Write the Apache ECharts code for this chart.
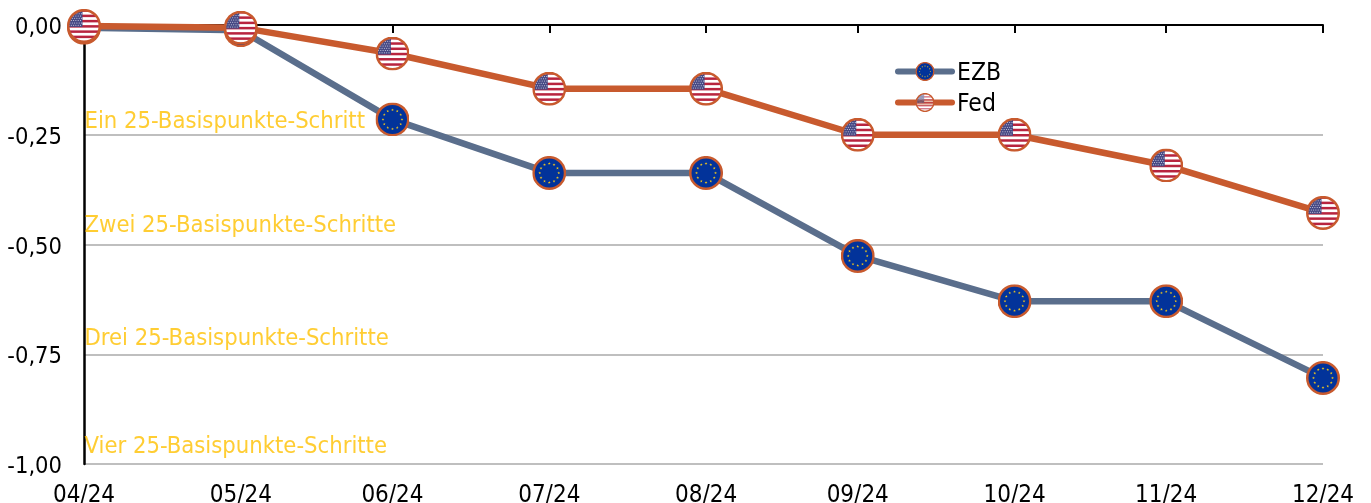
<!DOCTYPE html>
<html>
<head>
<meta charset="utf-8">
<style>
  html, body { margin: 0; padding: 0; background: #fff; }
  #chart { width: 1371px; height: 503px; }
</style>
<script src="https://cdn.jsdelivr.net/npm/echarts@6/dist/echarts.min.js"></script>
</head>
<body>
<div id="chart"></div>
<script>
// Cumulative rate steps since April 2024, in percentage points, at month ends
const monthEnds = ['2024-04-30', '2024-05-31', '2024-06-30', '2024-07-31', '2024-08-31', '2024-09-30', '2024-10-31', '2024-11-30', '2024-12-31'];
const monthLabels = ['04/24', '05/24', '06/24', '07/24', '08/24', '09/24', '10/24', '11/24', '12/24'];
const ezbValues = [-0.006, -0.012, -0.215, -0.337, -0.337, -0.526, -0.629, -0.629, -0.804];
const fedValues = [-0.002, -0.006, -0.065, -0.145, -0.145, -0.25, -0.25, -0.32, -0.428];
const stepLabels = ['Ein 25-Basispunkte-Schritt', 'Zwei 25-Basispunkte-Schritte', 'Drei 25-Basispunkte-Schritte', 'Vier 25-Basispunkte-Schritte'];
const stepLabelValues = [-0.2206, -0.4576, -0.7156, -0.9616];

const FONT = '"DejaVu Sans Condensed", "DejaVu Sans", sans-serif';
const ORANGE = '#c85a2e';
const SLATE = '#5a6e8c';

// The horizontal scale runs in days since the first month end
const monthDays = monthEnds.map(d => Math.round((Date.parse(d) - Date.parse(monthEnds[0])) / 86400000));

function svgSymbol(inner, opacity) {
  const svg = '<svg xmlns="http://www.w3.org/2000/svg" width="140" height="140" viewBox="0 0 68 68">' +
    '<defs><clipPath id="c"><circle cx="34" cy="34" r="32"/></clipPath></defs>' +
    '<g opacity="' + opacity + '"><g clip-path="url(#c)">' + inner + '</g></g>' +
    '<circle cx="34" cy="34" r="31.5" fill="none" stroke="' + ORANGE + '" stroke-width="5"/></svg>';
  return 'image://data:image/svg+xml;charset=utf-8,' + encodeURIComponent(svg);
}

// Stars and Stripes inside a round badge
function usFlag(opacity) {
  let s = '<rect width="68" height="68" fill="#fff"/>';
  for (let i = 0; i < 7; i++) {
    s += '<rect x="0" y="' + (1 + i * 10.5) + '" width="68" height="5" fill="#b8243f"/>';
  }
  s += '<rect x="0" y="0" width="31" height="36" fill="#474a85"/>';
  for (let r = 0; r < 7; r++) {
    for (let c = 0; c < 6; c++) {
      s += '<circle cx="' + (4 + c * 4.6 + (r % 2) * 2) + '" cy="' + (5 + r * 4.6) + '" r="1" fill="#dfe0ee"/>';
    }
  }
  return svgSymbol(s, opacity);
}

// Twelve gold stars on a blue round badge
function euFlag(opacity) {
  let s = '<rect width="68" height="68" fill="#02339a"/>';
  for (let i = 0; i < 12; i++) {
    const a = i * Math.PI / 6;
    const cx = 34 + 19 * Math.sin(a), cy = 34 - 19 * Math.cos(a);
    let pts = '';
    for (let k = 0; k < 10; k++) {
      const rad = k % 2 ? 1.2 : 3, t = k * Math.PI / 5;
      pts += (cx + rad * Math.sin(t)).toFixed(2) + ',' + (cy - rad * Math.cos(t)).toFixed(2) + ' ';
    }
    s += '<polygon points="' + pts + '" fill="#f4c81c"/>';
  }
  return svgSymbol(s, opacity);
}

const chart = echarts.init(document.getElementById('chart'), null, { renderer: 'canvas' });
const usBadge = usFlag(1);
const euBadge = euFlag(1);

const dayAxisBase = {
  type: 'value',
  min: monthDays[0],
  max: monthDays[monthDays.length - 1],
  splitLine: { show: false },
  minorTick: { show: false }
};

chart.setOption({
  animation: false,
  backgroundColor: '#fff',
  textStyle: { fontFamily: FONT },
  grid: { left: 84, right: 48, top: 25, bottom: 39, containLabel: false, outerBoundsMode: 'none' },
  legend: {
    data: ['EZB', 'Fed'],
    orient: 'vertical',
    left: 895,
    top: 61,
    padding: 0,
    itemWidth: 54,
    itemHeight: 24,
    itemGap: 6,
    align: 'left',
    selectedMode: false,
    lineStyle: { width: 6, cap: 'round' },
    formatter: name => '{t|' + name + '}',
    textStyle: {
      rich: { t: { fontFamily: FONT, fontSize: 24.5, color: '#000', padding: [4, 0, 0, 0] } }
    }
  },
  xAxis: [
    Object.assign({}, dayAxisBase, {
      position: 'bottom',
      axisLine: { show: false, onZero: false },
      axisTick: { show: false },
      axisLabel: {
        fontFamily: FONT,
        fontSize: 24,
        color: '#000',
        margin: 20,
        hideOverlap: false,
        showMinLabel: true,
        showMaxLabel: true,
        customValues: monthDays,
        formatter: v => monthLabels[monthDays.indexOf(v)]
      }
    }),
    Object.assign({}, dayAxisBase, {
      position: 'top',
      axisLine: { show: true, onZero: false, lineStyle: { color: '#000', width: 2 } },
      axisTick: { show: true, inside: true, length: 8, customValues: monthDays, lineStyle: { color: '#000', width: 2 } },
      axisLabel: { show: false }
    })
  ],
  yAxis: {
    type: 'value',
    min: -1,
    max: 0,
    interval: 0.25,
    axisLine: { show: true, onZero: false, lineStyle: { color: '#000', width: 2.5 } },
    axisTick: { show: false },
    axisLabel: {
      margin: 22,
      formatter: v => '{t|' + v.toFixed(2).replace('.', ',') + '}',
      rich: { t: { fontFamily: FONT, fontSize: 23.5, color: '#000', padding: [6, 0, 0, 0] } }
    },
    splitLine: { show: true, lineStyle: { color: '#bfbfbf', width: 2 } }
  },
  series: [
    {
      name: 'Schritte',
      type: 'scatter',
      xAxisIndex: 0,
      symbolSize: 1,
      itemStyle: { color: 'transparent' },
      silent: true,
      z: 1,
      data: stepLabelValues.map((v, i) => ({
        value: [monthDays[0], v],
        label: {
          show: true,
          position: 'right',
          distance: 0,
          formatter: stepLabels[i],
          fontFamily: FONT,
          fontSize: 23.6,
          color: '#ffc000'
        }
      }))
    },
    {
      name: 'EZB',
      type: 'line',
      xAxisIndex: 0,
      clip: false,
      symbol: euBadge,
      symbolSize: 34,
      showAllSymbol: true,
      lineStyle: { color: SLATE, width: 6.5, cap: 'round' },
      itemStyle: { color: SLATE },
      z: 3,
      data: ezbValues.map((v, i) => [monthDays[i], v])
    },
    {
      name: 'Fed',
      type: 'line',
      xAxisIndex: 0,
      clip: false,
      // the series-level badge is the paler one shown in the legend
      symbol: usFlag(0.6),
      symbolSize: 34,
      showAllSymbol: true,
      lineStyle: { color: ORANGE, width: 6.5, cap: 'round' },
      itemStyle: { color: ORANGE },
      z: 4,
      data: fedValues.map((v, i) => ({ value: [monthDays[i], v], symbol: usBadge }))
    }
  ]
});
</script>
</body>
</html>
